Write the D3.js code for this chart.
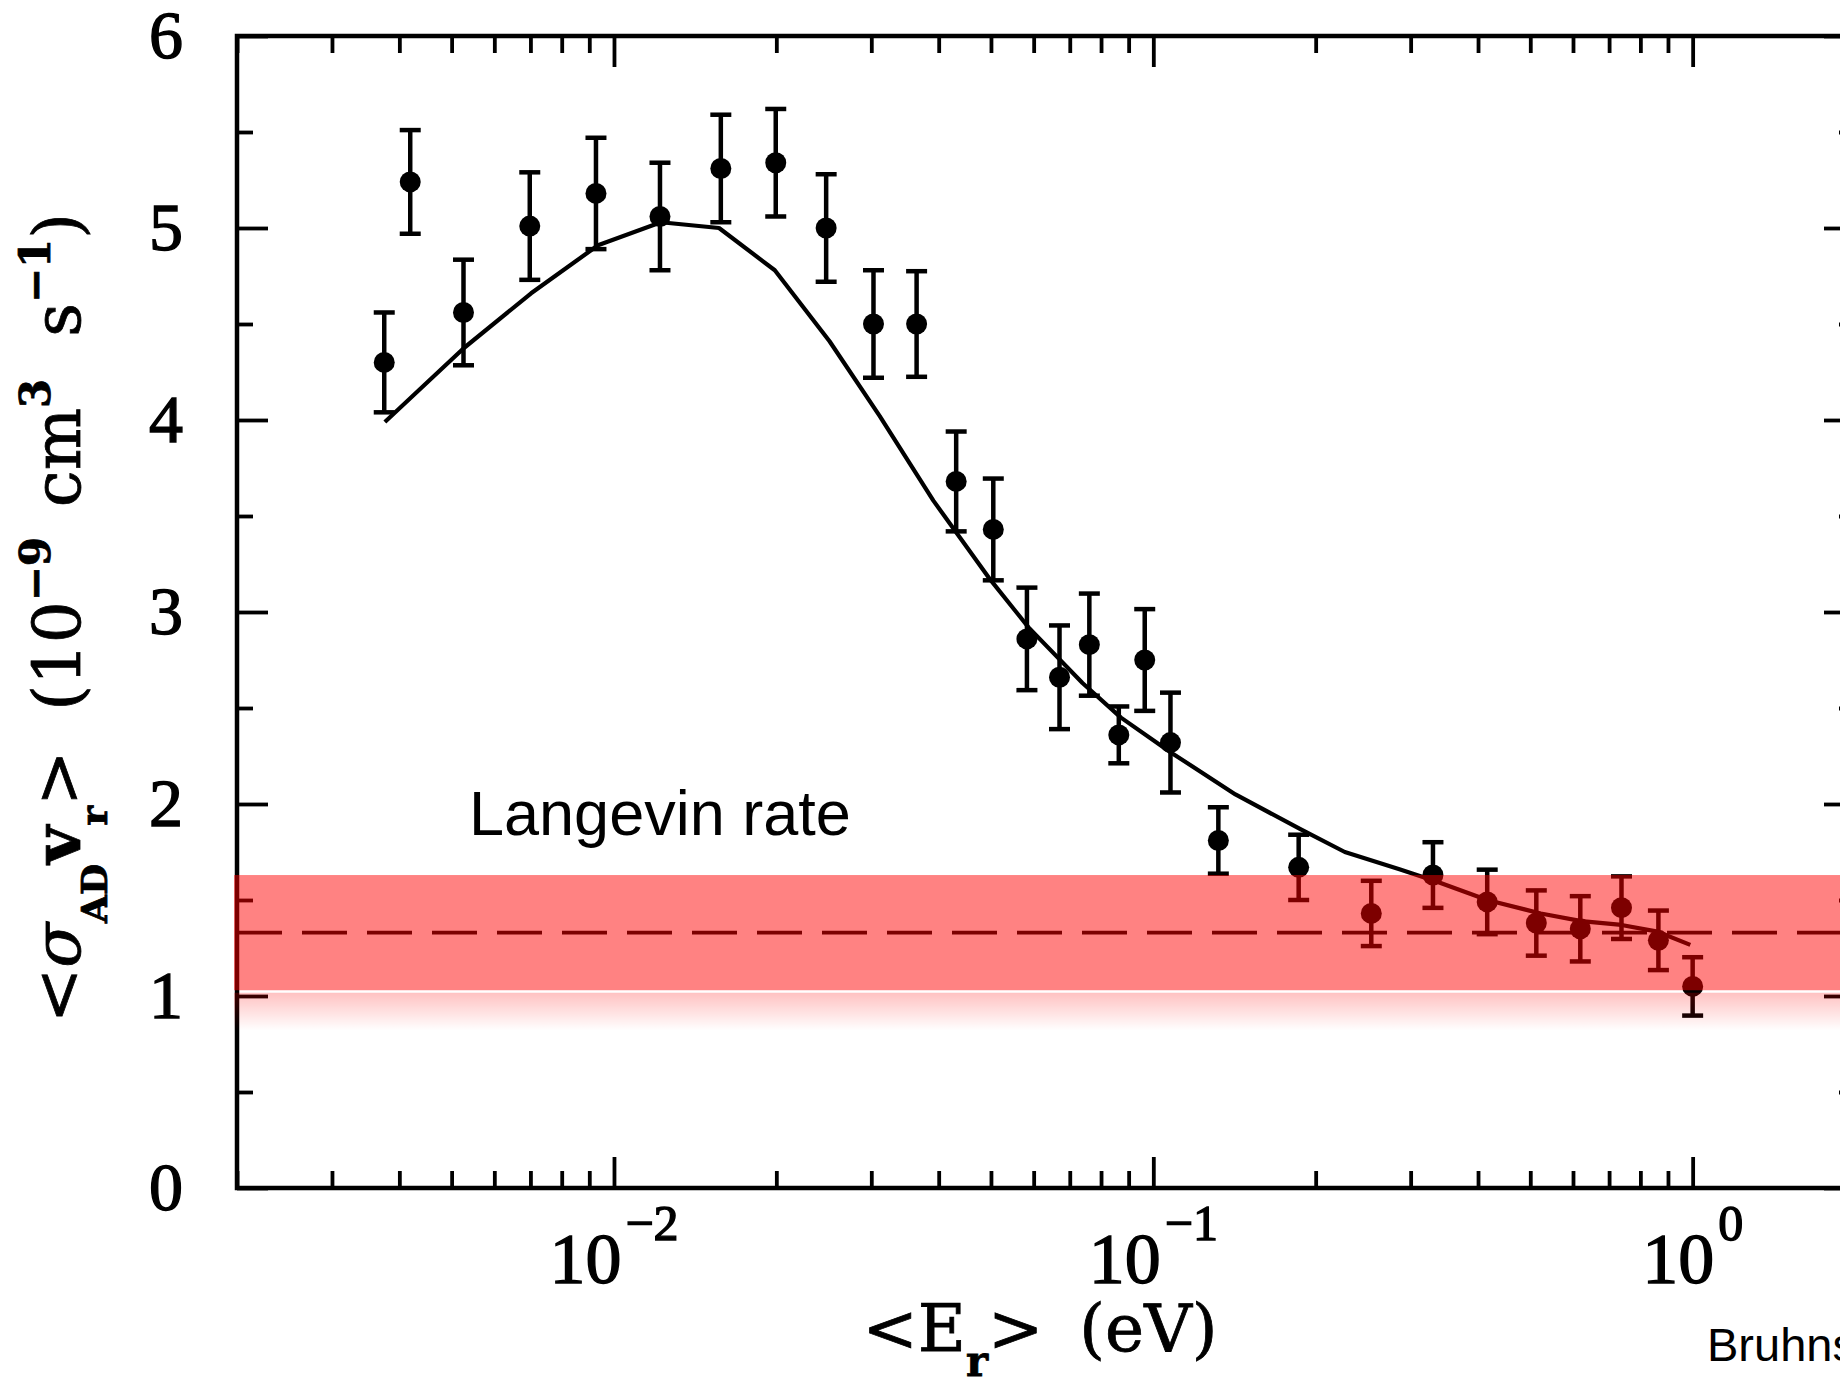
<!DOCTYPE html>
<html>
<head>
<meta charset="utf-8">
<script src="https://cdn.jsdelivr.net/npm/d3@7"></script>
<style>
  html, body { margin: 0; padding: 0; background: #fff; overflow: hidden; }
  svg { display: block; }
</style>
</head>
<body>
<svg id="chart" width="1840" height="1384"></svg>
<script>
// Measured associative detachment rate coefficient vs. mean collision energy
const energy = [0.00375, 0.00419, 0.00526, 0.00698, 0.00926, 0.01217, 0.01578, 0.01995,
                0.02474, 0.03028, 0.0364, 0.0431, 0.0505, 0.0583, 0.067, 0.0761, 0.0863,
                0.0964, 0.1076, 0.132, 0.186, 0.2536, 0.330, 0.416, 0.513, 0.619, 0.738,
                0.864, 1.0];
const rate = [4.30, 5.24, 4.56, 5.01, 5.18, 5.06, 5.31, 5.34, 5.00, 4.50, 4.50, 3.68,
              3.43, 2.86, 2.66, 2.83, 2.36, 2.75, 2.32, 1.81, 1.67, 1.43, 1.63, 1.49,
              1.38, 1.35, 1.46, 1.29, 1.05];
const rateErr = [0.26, 0.27, 0.275, 0.28, 0.29, 0.28, 0.28, 0.28, 0.28, 0.28, 0.275, 0.26,
                 0.265, 0.267, 0.27, 0.266, 0.148, 0.265, 0.26, 0.173, 0.17, 0.17, 0.171,
                 0.168, 0.17, 0.17, 0.163, 0.155, 0.152];

// Theoretical curve
const fitEnergy = [0.00376, 0.00527, 0.00702, 0.00934, 0.01222, 0.01566, 0.01987, 0.0251,
                   0.0311, 0.0391, 0.0499, 0.0587, 0.0739, 0.0871, 0.1076, 0.142, 0.187,
                   0.2265, 0.286, 0.336, 0.416, 0.523, 0.622, 0.738, 0.861, 0.99];
const fitRate = [3.99, 4.375, 4.66, 4.91, 5.03, 5.00, 4.78, 4.41, 4.02, 3.58, 3.167, 2.92,
                 2.63, 2.45, 2.27, 2.05, 1.87, 1.75, 1.66, 1.595, 1.50, 1.43, 1.39, 1.37,
                 1.335, 1.266];

// Langevin capture rate and its uncertainty band
const langevinRate = 1.33;
const langevinSpread = 0.30;

// Axis ticks
const xMajorTicks = [0.01, 0.1, 1];
const xTickExponents = ["\u22122", "\u22121", "0"];
const yMajorTicks = [0, 1, 2, 3, 4, 5, 6];
const yMinorTicks = [0.5, 1.5, 2.5, 3.5, 4.5, 5.5];

const svg = d3.select("#chart");

const x = d3.scaleLog().domain([0.002, 2]).range([237, 1855]);
const y = d3.scaleLinear().domain([0, 6]).range([1188, 36]);

const [x0, x1] = x.range();
const serif = "Liberation Serif, Times New Roman, serif";
const slab = "DejaVu Serif, serif";
const sans = "Liberation Sans, Arial, Helvetica, sans-serif";

const defs = svg.append("defs");
const fade = defs.append("linearGradient").attr("id", "bandFade")
  .attr("x1", 0).attr("y1", 0).attr("x2", 0).attr("y2", 1);
fade.append("stop").attr("offset", 0).attr("stop-color", "#ff0000").attr("stop-opacity", 0.24);
fade.append("stop").attr("offset", 1).attr("stop-color", "#ff0000").attr("stop-opacity", 0);

// ---- ticks (inward, on all four sides) ----
const xMinorTicks = x.ticks().filter(v => !xMajorTicks.some(m => Math.abs(m - v) < 1e-12));
function tickStyle(g) {
  g.select(".domain").remove();
  g.selectAll(".tick line").attr("stroke", "#000").attr("stroke-width", 3.8);
  g.selectAll(".tick text").remove();
}
svg.append("g").attr("transform", `translate(0,${y(0)})`)
  .call(d3.axisBottom(x).tickValues(xMinorTicks).tickSizeInner(-17).tickSizeOuter(0)).call(tickStyle);
svg.append("g").attr("transform", `translate(0,${y(0)})`)
  .call(d3.axisBottom(x).tickValues(xMajorTicks).tickSizeInner(-31).tickSizeOuter(0)).call(tickStyle);
svg.append("g").attr("transform", `translate(0,${y(6)})`)
  .call(d3.axisTop(x).tickValues(xMinorTicks).tickSizeInner(-17).tickSizeOuter(0)).call(tickStyle);
svg.append("g").attr("transform", `translate(0,${y(6)})`)
  .call(d3.axisTop(x).tickValues(xMajorTicks).tickSizeInner(-31).tickSizeOuter(0)).call(tickStyle);
svg.append("g").attr("transform", `translate(${x0},0)`)
  .call(d3.axisLeft(y).tickValues(yMinorTicks).tickSizeInner(-16).tickSizeOuter(0)).call(tickStyle);
svg.append("g").attr("transform", `translate(${x0},0)`)
  .call(d3.axisLeft(y).tickValues(yMajorTicks).tickSizeInner(-31).tickSizeOuter(0)).call(tickStyle);
svg.append("g").attr("transform", `translate(${x1},0)`)
  .call(d3.axisRight(y).tickValues(yMinorTicks).tickSizeInner(-16).tickSizeOuter(0)).call(tickStyle);
svg.append("g").attr("transform", `translate(${x1},0)`)
  .call(d3.axisRight(y).tickValues(yMajorTicks).tickSizeInner(-31).tickSizeOuter(0)).call(tickStyle);

// frame
svg.append("rect")
  .attr("x", x0).attr("y", y(6))
  .attr("width", x1 - x0).attr("height", y(0) - y(6))
  .attr("fill", "none").attr("stroke", "#000").attr("stroke-width", 4.5);

// ---- tick labels ----
svg.append("g").selectAll("text").data(yMajorTicks).join("text")
  .attr("x", 183).attr("y", d => y(d) + 22)
  .attr("text-anchor", "end")
  .attr("font-family", serif).attr("font-size", 68)
  .attr("fill", "#000").attr("stroke", "#000").attr("stroke-width", 1.4)
  .text(d => d);

const xLab = svg.append("g").selectAll("text").data(xMajorTicks).join("text")
  .attr("x", d => x(d)).attr("y", 1283)
  .attr("text-anchor", "middle")
  .attr("font-family", serif).attr("font-size", 72)
  .attr("fill", "#000").attr("stroke", "#000").attr("stroke-width", 1.4);
xLab.append("tspan").text("10");
xLab.append("tspan").attr("font-size", 50).attr("dy", -43).attr("dx", 4)
  .text((d, i) => xTickExponents[i]);

// ---- axis titles ----
const xt = svg.append("text")
  .attr("x", 1040).attr("y", 1351).attr("text-anchor", "middle")
  .attr("font-family", slab).attr("font-size", 66)
  .attr("fill", "#000").attr("stroke", "#000").attr("stroke-width", 0.8);
xt.append("tspan").text("<E");
xt.append("tspan").attr("font-size", 42).attr("font-weight", "bold").attr("dy", 25).text("r");
xt.append("tspan").attr("dy", -25).text(">");
xt.append("tspan").attr("dx", 36).text("(eV)");

const yg = svg.append("g");
const yt = yg.append("text")
  .attr("font-family", slab).attr("font-size", 66)
  .attr("fill", "#000").attr("stroke", "#000").attr("stroke-width", 0.8);
yt.append("tspan").text("<");
yt.append("tspan").attr("font-style", "italic").text("\u03c3");
yt.append("tspan").attr("font-size", 36).attr("font-weight", "bold").attr("dy", 27).text("AD");
yt.append("tspan").attr("font-weight", "bold").attr("dy", -27).text("v");
yt.append("tspan").attr("font-size", 38).attr("font-weight", "bold").attr("dy", 27).text("r");
yt.append("tspan").attr("dy", -27).text(">");
yt.append("tspan").attr("dx", 40).text("(10");
yt.append("tspan").attr("font-size", 42).attr("font-weight", "bold").attr("dy", -30).text("\u22129");
yt.append("tspan").attr("dx", 30).attr("dy", 30).text("cm");
yt.append("tspan").attr("font-size", 42).attr("font-weight", "bold").attr("dy", -30).text("3");
yt.append("tspan").attr("dx", 42).attr("dy", 30).text("s");
yt.append("tspan").attr("font-size", 42).attr("font-weight", "bold").attr("dy", -30).text("\u22121");
yt.append("tspan").attr("dy", 30).text(")");
const yLen = yt.node().getBBox().width;
const yFit = 810 / yLen;
yg.attr("transform", `translate(80,1023) rotate(-90) scale(${yFit},1)`);

// ---- Langevin level ----
svg.append("line")
  .attr("x1", x0).attr("x2", x1)
  .attr("y1", y(langevinRate)).attr("y2", y(langevinRate))
  .attr("stroke", "#000").attr("stroke-width", 3.8)
  .attr("stroke-dasharray", "45,20");

// ---- theory curve ----
const fitPts = fitEnergy.map((e, i) => [e, fitRate[i]]);
svg.append("path")
  .attr("d", d3.line().x(d => x(d[0])).y(d => y(d[1]))(fitPts))
  .attr("fill", "none").attr("stroke", "#000").attr("stroke-width", 4.2)
  .attr("stroke-linejoin", "round");

// ---- measurements with error bars ----
const pts = energy.map((e, i) => ({ e, r: rate[i], s: rateErr[i] }));
const bars = svg.append("g").attr("stroke", "#000").attr("stroke-width", 4.5);
bars.selectAll("line.v").data(pts).join("line").attr("class", "v")
  .attr("x1", d => x(d.e)).attr("x2", d => x(d.e))
  .attr("y1", d => y(d.r - d.s)).attr("y2", d => y(d.r + d.s));
bars.selectAll("line.hi").data(pts).join("line").attr("class", "hi")
  .attr("x1", d => x(d.e) - 10.5).attr("x2", d => x(d.e) + 10.5)
  .attr("y1", d => y(d.r + d.s)).attr("y2", d => y(d.r + d.s));
bars.selectAll("line.lo").data(pts).join("line").attr("class", "lo")
  .attr("x1", d => x(d.e) - 10.5).attr("x2", d => x(d.e) + 10.5)
  .attr("y1", d => y(d.r - d.s)).attr("y2", d => y(d.r - d.s));
svg.append("g").selectAll("circle").data(pts).join("circle")
  .attr("cx", d => x(d.e)).attr("cy", d => y(d.r)).attr("r", 10.5)
  .attr("fill", "#000");

// ---- translucent Langevin band ----
const bandTop = y(langevinRate + langevinSpread);
const bandBot = y(langevinRate - langevinSpread);
svg.append("rect")
  .attr("x", x0 - 3).attr("y", bandTop)
  .attr("width", 1840 - x0 + 3).attr("height", bandBot - bandTop)
  .attr("fill", "#ff0000").attr("fill-opacity", 0.49);
svg.append("rect")
  .attr("x", x0 - 3).attr("y", bandBot + 2.5)
  .attr("width", 1840 - x0 + 3).attr("height", 38)
  .attr("fill", "url(#bandFade)");

// ---- annotations ----
svg.append("text")
  .attr("x", 469).attr("y", 835)
  .attr("font-family", sans).attr("font-size", 63).attr("fill", "#000")
  .text("Langevin rate");
svg.append("text")
  .attr("x", 1707).attr("y", 1361)
  .attr("font-family", sans).attr("font-size", 47).attr("fill", "#000")
  .text("Bruhns et al. 2010");
</script>
</body>
</html>
